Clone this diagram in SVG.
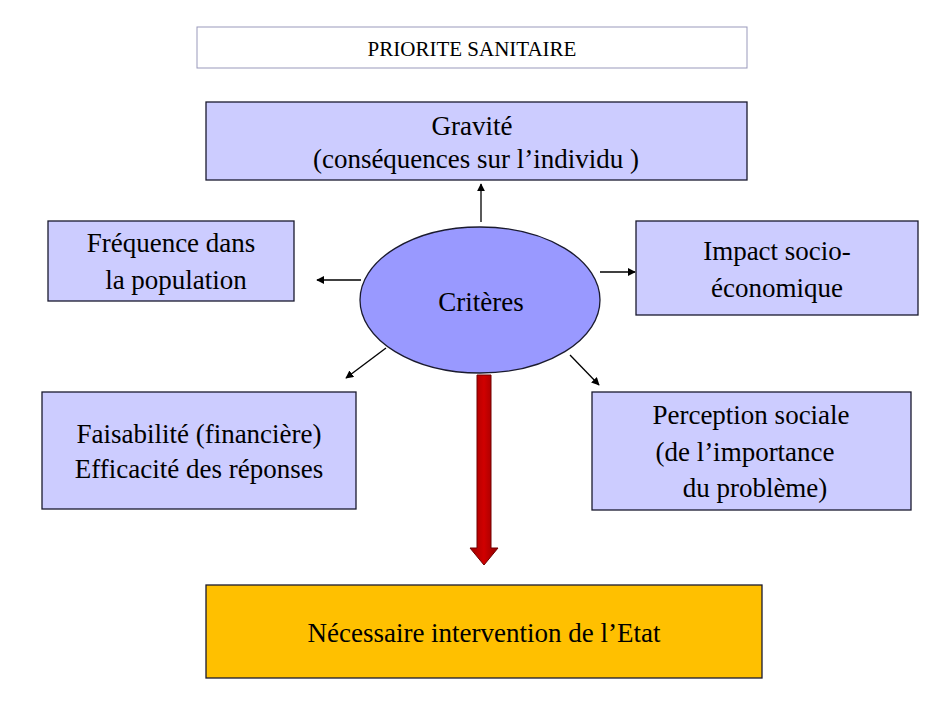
<svg xmlns="http://www.w3.org/2000/svg" width="944" height="708" viewBox="0 0 944 708">
<style>
.b{fill:#ccccff;stroke:#1a1a2e;stroke-width:1.3}
.t{font-family:"Liberation Serif",serif;font-size:27px;fill:#000;text-anchor:middle}
.c{stroke:#000;stroke-width:1.3;fill:none;marker-end:url(#a)}
</style>
<defs>
<marker id="a" viewBox="0 0 10 10" refX="9" refY="5" markerWidth="8" markerHeight="8" markerUnits="userSpaceOnUse" orient="auto"><path d="M0,0L10,5L0,10z" fill="#000"/></marker>
<linearGradient id="r" x1="0" x2="1"><stop offset="0" stop-color="#a00000"/><stop offset="0.5" stop-color="#d00000"/><stop offset="1" stop-color="#900000"/></linearGradient>
</defs>
<rect width="944" height="708" fill="#fff"/>
<g id="title"><rect x="197" y="27" width="550" height="41" fill="#fff" stroke="#9999bb" stroke-width="1"/><text class="t" x="472" y="56" style="font-size:21px">PRIORITE SANITAIRE</text></g>
<g id="gravite"><rect class="b" x="206" y="102" width="541" height="78"/><text class="t" x="472" y="135">Gravité</text><text class="t" x="476" y="168">(conséquences  sur  l’individu )</text></g>
<g id="frequence"><rect class="b" x="48" y="221" width="246" height="80"/><text class="t" x="171" y="252">Fréquence dans</text><text class="t" x="176" y="289">la population</text></g>
<g id="impact"><rect class="b" x="636" y="221" width="282" height="94"/><text class="t" x="777" y="260">Impact socio-</text><text class="t" x="777" y="297">économique</text></g>
<g id="faisabilite"><rect class="b" x="42" y="392" width="314" height="117"/><text class="t" x="199" y="443">Faisabilité (financière)</text><text class="t" x="199" y="478">Efficacité des réponses</text></g>
<g id="perception"><rect class="b" x="592" y="392" width="319" height="118"/><text class="t" x="751" y="424">Perception sociale</text><text class="t" x="745" y="461">(de l’importance</text><text class="t" x="755" y="497">du problème)</text></g>
<g id="criteres"><ellipse cx="480" cy="300" rx="120" ry="73" fill="#9999ff" stroke="#1a1a2e" stroke-width="1.3"/><text class="t" x="481" y="311">Critères</text></g>
<g id="etat"><rect x="206" y="585" width="556" height="93" fill="#ffc000" stroke="#1a1a2e" stroke-width="1.3"/><text class="t" x="484" y="642">Nécessaire intervention de l’Etat</text></g>
<g id="connectors">
<path class="c" d="M481,222V184"/>
<path class="c" d="M361,280H317"/>
<path class="c" d="M600,272H635"/>
<path class="c" d="M386,348L346,378"/>
<path class="c" d="M570,355L599,385"/>
<path d="M477,375H491V548H498L484,565L470,548H477Z" fill="url(#r)" stroke="#700000" stroke-width="1"/>
</g>
</svg>
